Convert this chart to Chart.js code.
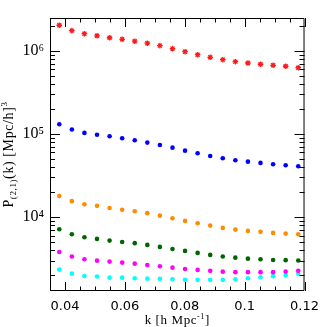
<!DOCTYPE html>
<html><head><meta charset="utf-8">
<script src="https://cdn.jsdelivr.net/npm/chart.js@4/dist/chart.umd.min.js"></script>
<style>html,body{margin:0;padding:0;background:#fff}#wrap{width:327px;height:327px}</style>
</head><body><div id="wrap"><canvas id="c" width="327" height="327"></canvas></div>
<script>
const kValues = [0.0381, 0.0423, 0.0465, 0.0507, 0.0549, 0.0591, 0.0633, 0.0675, 0.0717, 0.0759,
                 0.0801, 0.0843, 0.0885, 0.0927, 0.0969, 0.1011, 0.1053, 0.1095, 0.1137, 0.1179];
const redSeries = [2.02e6, 1.74e6, 1.60e6, 1.51e6, 1.43e6, 1.37e6, 1.30e6, 1.23e6, 1.15e6, 1.06e6,
                   9.73e5, 8.95e5, 8.33e5, 7.80e5, 7.38e5, 7.12e5, 6.87e5, 6.68e5, 6.50e5, 6.25e5];
const blueSeries = [1.31e5, 1.13e5, 1.03e5, 9.80e4, 9.38e4, 8.88e4, 8.40e4, 7.87e4, 7.38e4, 6.85e4,
                    6.30e4, 5.87e4, 5.44e4, 5.11e4, 4.83e4, 4.65e4, 4.49e4, 4.33e4, 4.21e4, 4.09e4];
const orangeSeries = [1.80e4, 1.56e4, 1.43e4, 1.37e4, 1.29e4, 1.23e4, 1.18e4, 1.12e4, 1.045e4, 9.73e3,
                      9.03e3, 8.47e3, 7.93e3, 7.44e3, 7.10e3, 6.85e3, 6.67e3, 6.48e3, 6.36e3, 6.25e3];
const greenSeries = [7.18e3, 6.25e3, 5.75e3, 5.49e3, 5.24e3, 5.05e3, 4.88e3, 4.65e3, 4.40e3, 4.16e3,
                     3.94e3, 3.73e3, 3.53e3, 3.37e3, 3.27e3, 3.18e3, 3.13e3, 3.07e3, 3.05e3, 3.02e3];
const magentaSeries = [3.83e3, 3.37e3, 3.13e3, 3.01e3, 2.93e3, 2.85e3, 2.77e3, 2.67e3, 2.58e3, 2.48e3,
                       2.39e3, 2.33e3, 2.27e3, 2.22e3, 2.19e3, 2.19e3, 2.19e3, 2.19e3, 2.22e3, 2.27e3];
const cyanSeries = [2.35e3, 2.10e3, 1.97e3, 1.94e3, 1.88e3, 1.88e3, 1.85e3, 1.83e3, 1.82e3, 1.80e3,
                    1.77e3, 1.77e3, 1.77e3, 1.77e3, 1.80e3, 1.85e3, 1.90e3, 1.96e3, 2.01e3, 2.09e3];
const xTickLabels = [0.04, 0.06, 0.08, 0.1, 0.12];
const yTickLabels = [1e4, 1e5, 1e6];
const yTickText = {4: '10\u2074', 5: '10\u2075', 6: '10\u2076'};

const seriesList = [
  {values: redSeries, color: '#ff1a1a', style: 'star', r: 2.8},
  {values: blueSeries, color: '#0000ff', style: 'circle', r: 2.3},
  {values: orangeSeries, color: '#ff8c00', style: 'circle', r: 2.3},
  {values: greenSeries, color: '#006400', style: 'circle', r: 2.3},
  {values: magentaSeries, color: '#ff00ff', style: 'circle', r: 2.3},
  {values: cyanSeries, color: '#00ffff', style: 'circle', r: 2.3}
];

const datasets = seriesList.map(s => ({
  data: kValues.map((k, i) => ({x: k, y: s.values[i]})),
  backgroundColor: s.color,
  borderColor: s.color,
  borderWidth: s.style === 'star' ? 1.3 : 0,
  pointStyle: s.style,
  pointRadius: s.r,
  showLine: false
}));

const frameTicks = {
  id: 'frameTicks',
  afterDatasetsDraw(chart) {
    const ctx = chart.ctx, a = chart.chartArea;
    const xs = chart.scales.x, ys = chart.scales.y;
    ctx.save();
    ctx.strokeStyle = '#000';
    ctx.lineWidth = 1;
    ctx.beginPath();
    ctx.rect(a.left + 0.5, a.top + 0.5, a.right - a.left - 1, a.bottom - a.top - 1);
    ctx.stroke();
    ctx.beginPath();
    for (let i = 7; i <= 24; i++) {
      const v = i * 0.005;
      const px = Math.round(xs.getPixelForValue(v)) + 0.5;
      const major = (i % 4 === 0);
      const len = major ? 9 : 4.5;
      ctx.moveTo(px, a.bottom); ctx.lineTo(px, a.bottom - len);
      ctx.moveTo(px, a.top); ctx.lineTo(px, a.top + len);
    }
    for (let e = 3; e <= 6; e++) {
      for (let m = 1; m <= 9; m++) {
        const v = m * Math.pow(10, e);
        if (v < ys.min || v > ys.max) continue;
        const py = Math.round(ys.getPixelForValue(v)) + 0.5;
        const len = m === 1 ? 10 : 5;
        ctx.moveTo(a.left, py); ctx.lineTo(a.left + len, py);
        ctx.moveTo(a.right, py); ctx.lineTo(a.right - len, py);
      }
    }
    ctx.stroke();
    ctx.restore();
  },
  afterDraw(chart) {
    const ctx = chart.ctx, a = chart.chartArea;
    ctx.save();
    ctx.fillStyle = '#000';
    ctx.textBaseline = 'alphabetic';
    try { ctx.letterSpacing = '0.6px'; } catch (e) {}
    const main = '14px "Liberation Serif", "DejaVu Serif", serif';
    const small = '9px "Liberation Serif", "DejaVu Serif", serif';
    // y title
    const ySegs = [
      {t: 'P', f: main, dy: 0},
      {t: '(2,1)', f: small, dy: 3},
      {t: '(k) [Mpc/h]', f: main, dy: 0},
      {t: '3', f: small, dy: -6}
    ];
    let tot = 0;
    ySegs.forEach(s => { ctx.font = s.f; s.w = ctx.measureText(s.t).width; tot += s.w; });
    ctx.translate(13, (a.top + a.bottom) / 2);
    ctx.rotate(-Math.PI / 2);
    let x = -tot / 2;
    ySegs.forEach(s => { ctx.font = s.f; ctx.fillText(s.t, x, s.dy); x += s.w; });
    ctx.setTransform(1, 0, 0, 1, 0, 0);
    // x title
    const xSegs = [
      {t: 'k [h Mpc', f: '13px "Liberation Serif", "DejaVu Serif", serif', dy: 0},
      {t: '-1', f: '8px "Liberation Serif", "DejaVu Serif", serif', dy: -5},
      {t: ']', f: '13px "Liberation Serif", "DejaVu Serif", serif', dy: 0}
    ];
    tot = 0;
    xSegs.forEach(s => { ctx.font = s.f; s.w = ctx.measureText(s.t).width; tot += s.w; });
    x = (a.left + a.right) / 2 - tot / 2;
    xSegs.forEach(s => { ctx.font = s.f; ctx.fillText(s.t, x, 324 + s.dy); x += s.w; });
    ctx.restore();
  }
};

new Chart(document.getElementById('c'), {
  type: 'scatter',
  data: {datasets},
  options: {
    responsive: false,
    devicePixelRatio: 1,
    animation: false,
    layout: {padding: {left: 0, top: 18, right: 18, bottom: 0}},
    plugins: {legend: {display: false}, tooltip: {enabled: false}},
    scales: {
      x: {
        type: 'linear', min: 0.035, max: 0.12,
        grid: {display: false, drawTicks: false},
        border: {display: false},
        afterBuildTicks: s => { s.ticks = xTickLabels.map(v => ({value: v})); },
        afterFit: s => { s.height = 36; },
        ticks: {
          autoSkip: false, maxRotation: 0, padding: 8, color: '#000',
          font: {family: '"DejaVu Sans", sans-serif', size: 13},
          callback: v => String(Math.round(v * 100) / 100)
        }
      },
      y: {
        type: 'logarithmic', min: 1300, max: 2.47e6,
        grid: {display: false, drawTicks: false},
        border: {display: false},
        afterBuildTicks: s => { s.ticks = yTickLabels.map(v => ({value: v})); },
        afterFit: s => { s.width = 50; },
        ticks: {
          autoSkip: false, padding: 6, color: '#000',
          font: {family: '"Liberation Serif", "DejaVu Serif", serif', size: 16},
          callback: v => yTickText[Math.round(Math.log10(v))] || ''
        }
      }
    }
  },
  plugins: [frameTicks]
});
</script></body></html>
